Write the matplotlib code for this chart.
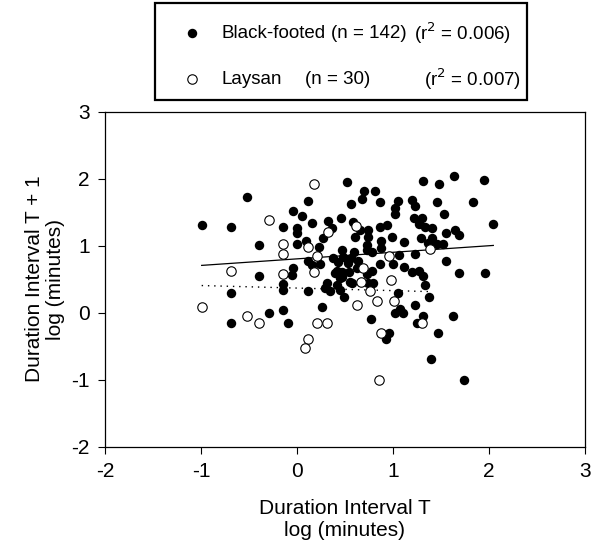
import numpy as np
import matplotlib.pyplot as plt
from matplotlib.patches import Rectangle
from matplotlib.lines import Line2D

plt.rcParams['font.family'] = ['Liberation Sans', 'DejaVu Sans']
plt.rcParams['axes.unicode_minus'] = False

# Black-footed albatross: duration interval T vs T + 1, log(minutes)
bf_x = [-0.993, -0.691, -0.518, -0.393, -0.393, -0.691, -0.691, -0.295, -0.149, -0.09,
        -0.149, -0.045, -0.149, -0.149, -0.055, 0.003, 0.003, 0.003, -0.038,
        0.524, 0.698, 0.816, 0.674, 0.559, 0.865, 0.118, 0.049, 0.153, 0.326,
        0.455, 0.361, 0.267, 0.094, 0.233, 0.604, 0.743, 0.743, 0.656, 0.865,
        0.941, 0.872, 0.872, 0.986, 0.733, 0.733, 0.778, 0.594, 0.563, 0.465,
        0.483, 0.378, 0.43, 0.535, 0.639, 0.118, 0.153, 0.24, 0.413, 0.465,
        0.621, 0.865, 1.003, 0.778,
        1.316, 1.479, 1.639, 1.948, 1.056, 1.194, 1.229, 1.455, 1.837, 1.021,
        1.021, 1.531, 1.219, 1.305, 1.274, 1.333, 1.403, 2.045, 1.651, 1.69,
        1.552, 1.115, 1.292, 1.403, 1.368, 1.455, 1.524, 1.066, 1.229, 1.115,
        1.552, 1.194, 1.274, 1.69, 1.958, 1.309,
        1.333, 1.056, 1.38, 1.229, 1.021, 1.101, 1.073, 1.309, 1.247, 1.622,
        1.472, 1.392, 1.74,
        0.396, 0.465, 0.545, 0.726, 0.795, 0.743, 0.309, 0.292, 0.344, 0.413,
        0.448, 0.493, 0.57, 0.118, 0.257, 0.767, 0.962, 0.927,
        0.448, 0.552, 0.587]
bf_y = [1.313, 1.279, 1.736, 1.02, 0.556, 0.303, -0.154, 0.0, 0.04, -0.154,
        1.279, 1.527, 0.433, 0.343, 0.56, 1.264, 1.199, 1.025, 0.667,
        1.951, 1.826, 1.826, 1.701, 1.622, 1.662, 1.672, 1.448, 1.338, 1.378,
        1.413, 1.264, 1.125, 1.075, 0.99, 1.139, 1.239, 1.139, 1.239, 1.289,
        1.313, 1.075, 0.975, 1.139, 1.015, 0.94, 0.915, 0.915, 0.816, 0.94,
        0.841, 0.826, 0.766, 0.741, 0.776, 0.776, 0.716, 0.726, 0.627, 0.617,
        0.667, 0.726, 0.726, 0.627,
        1.975, 1.92, 2.05, 1.99, 1.672, 1.687, 1.602, 1.652, 1.662, 1.562,
        1.473, 1.478, 1.413, 1.423, 1.323, 1.289, 1.274, 1.323, 1.239, 1.164,
        1.199, 1.055, 1.125, 1.115, 1.04, 1.025, 1.03, 0.866, 0.876, 0.69,
        0.776, 0.617, 0.627, 0.592, 0.592, 0.55,
        0.418, 0.303, 0.234, 0.119, 0.005, 0.005, 0.055, -0.045, -0.154, -0.045,
        -0.294, -0.691, -1.0,
        0.592, 0.542, 0.617, 0.582, 0.453, 0.453, 0.453, 0.369, 0.333, 0.418,
        0.343, 0.243, 0.443, 0.333, 0.085, -0.094, -0.294, -0.393,
        0.517, 0.468, 1.363]

# Laysan albatross
ly_x = [-0.993, -0.691, -0.518, -0.393, -0.295, -0.149, -0.149, -0.149, 0.177, 0.615,
        0.326, 0.118, 0.205, 0.962, 0.177, 0.691, 1.385, 0.976, 0.663, 0.76,
        0.628, 0.83, 1.014, 1.299, 0.205, 0.309, 0.118, 0.083, 0.872, 0.854]
ly_y = [0.085, 0.627, -0.045, -0.154, 1.388, 1.025, 0.876, 0.579, 1.92, 1.303,
        1.214, 0.99, 0.856, 0.856, 0.617, 0.676, 0.955, 0.493, 0.468, 0.328,
        0.119, 0.179, 0.179, -0.154, -0.154, -0.154, -0.393, -0.518, -0.294, -1.0]

# regression lines (slope, intercept)
bf_fit = (0.098, 0.808)
ly_fit = (-0.038, 0.372)

ticks = [-2, -1, 0, 1, 2, 3]

filled = dict(marker='o', linestyle='none', color='black', markersize=6.8,
              markeredgewidth=0)
hollow = dict(marker='o', linestyle='none', markerfacecolor='white',
              markeredgecolor='black', markersize=6.8, markeredgewidth=0.8)

fig = plt.figure(figsize=(5.98, 5.46), dpi=100)
ax = fig.add_axes([105 / 598, 1 - 447 / 546, 480 / 598, 335 / 546])

ax.plot(bf_x, bf_y, zorder=3, **filled)
ax.plot(ly_x, ly_y, zorder=4, **hollow)

# fitted lines
xs = np.array([min(bf_x), max(bf_x)])
ax.plot(xs, bf_fit[0] * xs + bf_fit[1], color='black', linewidth=0.9, zorder=2)
xs = np.array([min(ly_x), max(ly_x)])
ax.plot(xs, ly_fit[0] * xs + ly_fit[1], color='black', linewidth=1.0,
        linestyle=(0, (1, 3.5)), zorder=2)

ax.set_xlim(-2, 3)
ax.set_ylim(-2, 3)
ax.set_xticks(ticks)
ax.set_yticks(ticks)
ax.tick_params(direction='out', length=5, width=0.8, labelsize=15, pad=6)
for s in ax.spines.values():
    s.set_linewidth(0.9)

fig.text(345 / 598, 1 - 519 / 546, 'Duration Interval T\nlog (minutes)',
         ha='center', va='center', fontsize=15, linespacing=1.2)
fig.text(45 / 598, 1 - 279 / 546, 'Duration Interval T + 1\nlog (minutes)',
         ha='center', va='center', fontsize=15, rotation=90, linespacing=1.15)

# legend box drawn by hand so the columns sit like the original
fig.add_artist(Rectangle((155 / 598, 1 - 100 / 546), 372 / 598, 97 / 546,
                         transform=fig.transFigure, facecolor='white',
                         edgecolor='black', linewidth=1.6, zorder=5))
fig.add_artist(Line2D([192 / 598], [1 - 33 / 546], transform=fig.transFigure,
                      zorder=6, **filled))
fig.add_artist(Line2D([192 / 598], [1 - 79 / 546], transform=fig.transFigure,
                      zorder=6, **hollow))
row1 = [(222, 'Black-footed'), (331, '(n = 142)'), (414, '(r$^2$ = 0.006)')]
row2 = [(222, 'Laysan'), (305, '(n = 30)'), (424, '(r$^2$ = 0.007)')]
for y, row in [(33, row1), (79, row2)]:
    for x, t in row:
        fig.text(x / 598, 1 - y / 546, t, ha='left', va='center',
                 fontsize=13.5, zorder=6)

fig.savefig('out.png', dpi=100)
